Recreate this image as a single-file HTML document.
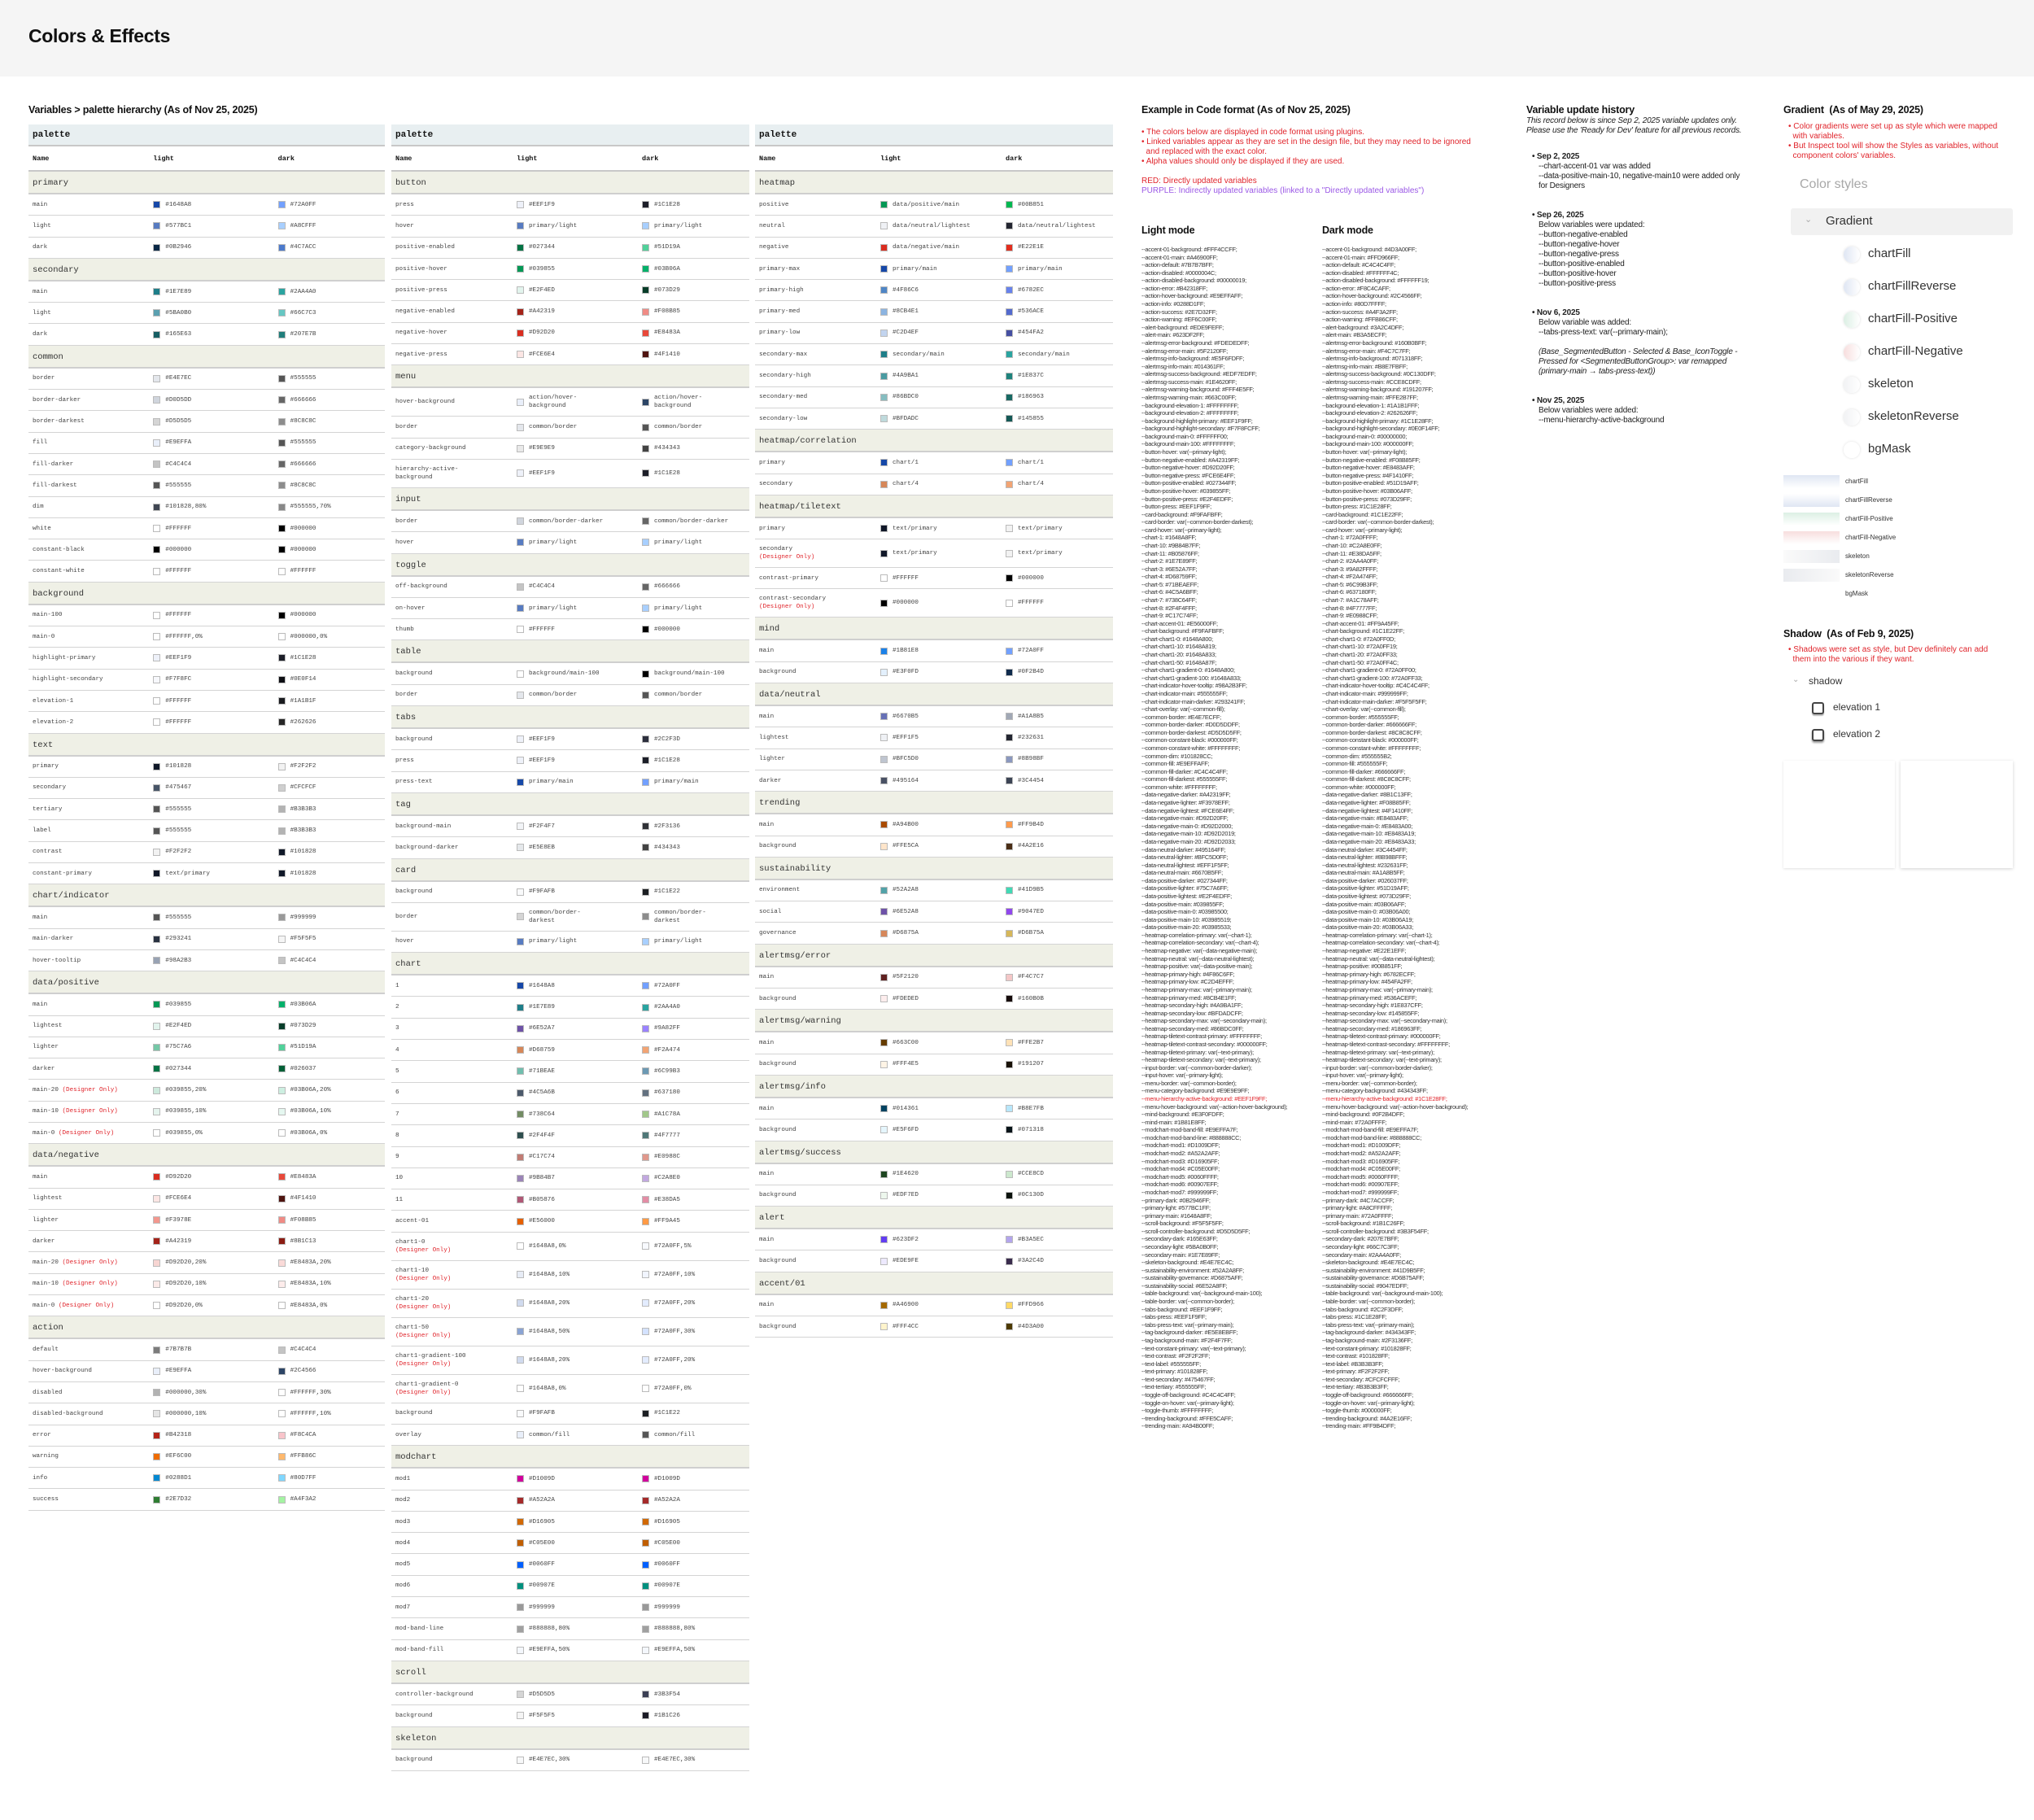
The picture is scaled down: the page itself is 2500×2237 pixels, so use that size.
<!DOCTYPE html>
<html><head><meta charset="utf-8"><title>Colors &amp; Effects</title>
<style>
*{box-sizing:border-box;margin:0;padding:0}
body{width:2500px;height:2237px;background:#fff;position:relative;font-family:"Liberation Sans",sans-serif;color:#111;overflow:hidden}
.abs{position:absolute}
#hdr{left:0;top:0;width:2500px;height:94px;background:#f5f5f5}
#title{left:35px;top:31px;font-size:23px;font-weight:bold;letter-spacing:-0.3px}
.h2{font-size:12.5px;font-weight:bold;letter-spacing:-0.2px}
.tbl{top:153px;font-family:"Liberation Mono",monospace}
.ph{height:27px;background:#e8eff1;border-bottom:2px solid #c8c8c8;font-size:11px;font-weight:bold;padding:7px 5px}
.nr{height:31px;border-bottom:2px solid #c8c8c8;font-size:8.5px;font-weight:bold;position:relative}
.nr .c{position:absolute;top:0;bottom:0;display:flex;align-items:center}
.sec{height:28px;background:#eff0e6;border-bottom:2px solid #cfcfcf;font-size:10.5px;padding:8px 5px;color:#333}
.row{min-height:26.3px;border-bottom:1.5px solid #d4d4d4;display:flex;align-items:center;padding:7px 0;font-size:7.6px;color:#444;line-height:10px}
.cn{width:35%;padding-left:5px}
.cv{width:35%;display:flex;align-items:center}
.cv2{width:30%;display:flex;align-items:center}
.vt{max-width:93px}
.sw{width:9px;height:9px;border:1px solid #bbb;margin-right:6px;flex:none}
.red{color:#e0242b}
.code{top:302px;font-size:7.4px;line-height:9.58px;color:#333;white-space:nowrap;letter-spacing:-0.25px}
.note{font-size:10px;color:#e0242b;line-height:12px}
.hist{font-size:10px;line-height:12px;color:#222;letter-spacing:-0.2px}
.gi{left:2296px;font-size:15px;color:#333}
.gc{left:2266px;width:20px;height:20px;border-radius:50%;box-shadow:0 0 3px #ddd}
.gs{left:2192px;width:69px;height:16px}
.gl{left:2268px;font-size:8px;color:#333}
</style></head><body>
<div id="hdr" class="abs"></div>
<div id="title" class="abs">Colors &amp; Effects</div>
<div class="abs h2" style="left:35px;top:128px">Variables &gt; palette hierarchy (As of Nov 25, 2025)</div>

<div id="t1" class="abs tbl" style="left:35px;width:438px"></div>
<div id="t2" class="abs tbl" style="left:481px;width:440px"></div>
<div id="t3" class="abs tbl" style="left:928px;width:440px"></div>

<div class="abs h2" style="left:1403px;top:128px">Example in Code format (As of Nov 25, 2025)</div>
<div class="abs note" style="left:1403px;top:157px;width:430px">
<div>• The colors below are displayed in code format using plugins.</div>
<div>• Linked variables appear as they are set in the design file, but they may need to be ignored<br>&nbsp;&nbsp;and replaced with the exact color.</div>
<div>• Alpha values should only be displayed if they are used.</div>
<div style="margin-top:12px">RED: Directly updated variables</div>
<div style="color:#9b59e6">PURPLE: Indirectly updated variables (linked to a "Directly updated variables")</div>
</div>
<div class="abs h2" style="left:1403px;top:276px">Light mode</div>
<div class="abs h2" style="left:1625px;top:276px">Dark mode</div>
<div id="codeL" class="abs code" style="left:1403px"></div>
<div id="codeD" class="abs code" style="left:1625px"></div>

<div class="abs h2" style="left:1876px;top:128px">Variable update history</div>
<div class="abs hist" style="left:1876px;top:143px;font-style:italic">This record below is since Sep 2, 2025 variable updates only.<br>Please use the 'Ready for Dev' feature for all previous records.</div>
<div class="abs hist" style="left:1883px;top:187px;width:290px">
<div><b>• Sep 2, 2025</b></div>
<div style="padding-left:8px">--chart-accent-01 var was added<br>--data-positive-main-10, negative-main10 were added only<br>for Designers</div>
<div style="margin-top:24px"><b>• Sep 26, 2025</b></div>
<div style="padding-left:8px">Below variables were updated:<br>--button-negative-enabled<br>--button-negative-hover<br>--button-negative-press<br>--button-positive-enabled<br>--button-positive-hover<br>--button-positive-press</div>
<div style="margin-top:24px"><b>• Nov 6, 2025</b></div>
<div style="padding-left:8px">Below variable was added:<br>--tabs-press-text: var(--primary-main);<br><br><i>(Base_SegmentedButton - Selected &amp; Base_IconToggle -<br>Pressed for &lt;SegmentedButtonGroup&gt;: var remapped<br>(primary-main → tabs-press-text))</i></div>
<div style="margin-top:24px"><b>• Nov 25, 2025</b></div>
<div style="padding-left:8px">Below variables were added:<br>--menu-hierarchy-active-background</div>
</div>

<div class="abs h2" style="left:2192px;top:128px">Gradient&nbsp; (As of May 29, 2025)</div>
<div class="abs note" style="left:2198px;top:150px;width:290px">• Color gradients were set up as style which were mapped<br>&nbsp;&nbsp;with variables.<br>• But Inspect tool will show the Styles as variables, without<br>&nbsp;&nbsp;component colors' variables.</div>
<div class="abs" style="left:2212px;top:218px;font-size:16px;color:#a8a8a8">Color styles</div>
<div class="abs" style="left:2201px;top:256px;width:273px;height:33px;background:#f1f1f1;border-radius:3px"></div>
<div class="abs" style="left:2218px;top:263px;font-size:11px;color:#aaa">⌄</div>
<div class="abs" style="left:2244px;top:263px;font-size:15px;color:#333">Gradient</div>
<div id="gradList"></div>

<div class="abs h2" style="left:2192px;top:772px">Shadow&nbsp; (As of Feb 9, 2025)</div>
<div class="abs note" style="left:2198px;top:793px;width:280px">• Shadows were set as style, but Dev definitely can add<br>&nbsp;&nbsp;them into the various if they want.</div>
<div class="abs" style="left:2203px;top:830px;font-size:10px;color:#aaa">⌄</div>
<div class="abs" style="left:2223px;top:830px;font-size:12px;color:#333">shadow</div>
<div class="abs" style="left:2227px;top:863px;width:15px;height:15px;border:2px solid #444;border-radius:3px;box-shadow:0 2px 1px #bbb"></div>
<div class="abs" style="left:2253px;top:862px;font-size:12px;color:#333">elevation 1</div>
<div class="abs" style="left:2227px;top:896px;width:15px;height:15px;border:2px solid #444;border-radius:3px;box-shadow:0 2px 2px #999"></div>
<div class="abs" style="left:2253px;top:895px;font-size:12px;color:#333">elevation 2</div>
<div class="abs" style="left:2192px;top:935px;width:137px;height:132px;background:#fff;box-shadow:0 1px 3px rgba(0,0,0,.12)"></div>
<div class="abs" style="left:2336px;top:935px;width:138px;height:132px;background:#fff;box-shadow:0 1px 4px rgba(0,0,0,.18)"></div>

<script>
const refL={"primary/main":"#1648A8","primary/light":"#577BC1","data/positive/main":"#039855","data/neutral/lightest":"#EFF1F5","data/negative/main":"#D92D20","secondary/main":"#1E7E89","chart/1":"#1648A8","chart/4":"#D68759","text/primary":"#101828","action/hover-background":"#E9EFFA","common/border":"#E4E7EC","common/border-darker":"#D0D5DD","common/border-darkest":"#D5D5D5","background/main-100":"#FFFFFF","common/fill":"#E9EFFA"};
const refD={"primary/main":"#72A0FF","primary/light":"#A8CFFF","data/neutral/lightest":"#232631","secondary/main":"#2AA4A0","chart/1":"#72A0FF","chart/4":"#F2A474","text/primary":"#F2F2F2","action/hover-background":"#2C4566","common/border":"#555555","common/border-darker":"#666666","common/border-darkest":"#8C8C8C","background/main-100":"#000000","common/fill":"#555555"};
const table1=["#primary","main|#1648A8|#72A0FF","light|#577BC1|#A8CFFF","dark|#0B2946|#4C7ACC","#secondary","main|#1E7E89|#2AA4A0","light|#5BA0B0|#66C7C3","dark|#165E63|#207E7B","#common","border|#E4E7EC|#555555","border-darker|#D0D5DD|#666666","border-darkest|#D5D5D5|#8C8C8C","fill|#E9EFFA|#555555","fill-darker|#C4C4C4|#666666","fill-darkest|#555555|#8C8C8C","dim|#101828,80%|#555555,70%","white|#FFFFFF|#000000","constant-black|#000000|#000000","constant-white|#FFFFFF|#FFFFFF","#background","main-100|#FFFFFF|#000000","main-0|#FFFFFF,0%|#000000,0%","highlight-primary|#EEF1F9|#1C1E28","highlight-secondary|#F7F8FC|#0E0F14","elevation-1|#FFFFFF|#1A1B1F","elevation-2|#FFFFFF|#262626","#text","primary|#101828|#F2F2F2","secondary|#475467|#CFCFCF","tertiary|#555555|#B3B3B3","label|#555555|#B3B3B3","contrast|#F2F2F2|#101828","constant-primary|text/primary|#101828","#chart/indicator","main|#555555|#999999","main-darker|#293241|#F5F5F5","hover-tooltip|#98A2B3|#C4C4C4","#data/positive","main|#039855|#03B06A","lightest|#E2F4ED|#073D29","lighter|#75C7A6|#51D19A","darker|#027344|#026037","main-20^(Designer Only)|#039855,20%|#03B06A,20%","main-10^(Designer Only)|#039855,10%|#03B06A,10%","main-0^(Designer Only)|#039855,0%|#03B06A,0%","#data/negative","main|#D92D20|#E8483A","lightest|#FCE6E4|#4F1410","lighter|#F3978E|#F08B85","darker|#A42319|#8B1C13","main-20^(Designer Only)|#D92D20,20%|#E8483A,20%","main-10^(Designer Only)|#D92D20,10%|#E8483A,10%","main-0^(Designer Only)|#D92D20,0%|#E8483A,0%","#action","default|#7B7B7B|#C4C4C4","hover-background|#E9EFFA|#2C4566","disabled|#000000,30%|#FFFFFF,30%","disabled-background|#000000,10%|#FFFFFF,10%","error|#B42318|#F8C4CA","warning|#EF6C00|#FFB86C","info|#0288D1|#80D7FF","success|#2E7D32|#A4F3A2"];
const table2=["#button","press|#EEF1F9|#1C1E28","hover|primary/light|primary/light","positive-enabled|#027344|#51D19A","positive-hover|#039855|#03B06A","positive-press|#E2F4ED|#073D29","negative-enabled|#A42319|#F08B85","negative-hover|#D92D20|#E8483A","negative-press|#FCE6E4|#4F1410","#menu","hover-background|action/hover-background|action/hover-background","border|common/border|common/border","category-background|#E9E9E9|#434343","hierarchy-active-~background|#EEF1F9|#1C1E28","#input","border|common/border-darker|common/border-darker","hover|primary/light|primary/light","#toggle","off-background|#C4C4C4|#666666","on-hover|primary/light|primary/light","thumb|#FFFFFF|#000000","#table","background|background/main-100|background/main-100","border|common/border|common/border","#tabs","background|#EEF1F9|#2C2F3D","press|#EEF1F9|#1C1E28","press-text|primary/main|primary/main","#tag","background-main|#F2F4F7|#2F3136","background-darker|#E5E8EB|#434343","#card","background|#F9FAFB|#1C1E22","border|common/border-darkest|common/border-darkest","hover|primary/light|primary/light","#chart","1|#1648A8|#72A0FF","2|#1E7E89|#2AA4A0","3|#6E52A7|#9A82FF","4|#D68759|#F2A474","5|#71BEAE|#6C99B3","6|#4C5A6B|#637180","7|#738C64|#A1C78A","8|#2F4F4F|#4F7777","9|#C17C74|#E0988C","10|#9B84B7|#C2A8E0","11|#B05876|#E38DA5","accent-01|#E56000|#FF9A45","chart1-0*(Designer Only)|#1648A8,0%|#72A0FF,5%","chart1-10*(Designer Only)|#1648A8,10%|#72A0FF,10%","chart1-20*(Designer Only)|#1648A8,20%|#72A0FF,20%","chart1-50*(Designer Only)|#1648A8,50%|#72A0FF,30%","chart1-gradient-100*(Designer Only)|#1648A8,20%|#72A0FF,20%","chart1-gradient-0*(Designer Only)|#1648A8,0%|#72A0FF,0%","background|#F9FAFB|#1C1E22","overlay|common/fill|common/fill","#modchart","mod1|#D1009D|#D1009D","mod2|#A52A2A|#A52A2A","mod3|#D16905|#D16905","mod4|#C05E00|#C05E00","mod5|#0060FF|#0060FF","mod6|#00907E|#00907E","mod7|#999999|#999999","mod-band-line|#888888,80%|#888888,80%","mod-band-fill|#E9EFFA,50%|#E9EFFA,50%","#scroll","controller-background|#D5D5D5|#3B3F54","background|#F5F5F5|#1B1C26","#skeleton","background|#E4E7EC,30%|#E4E7EC,30%"];
const table3=["#heatmap","positive|data/positive/main|#00B851","neutral|data/neutral/lightest|data/neutral/lightest","negative|data/negative/main|#E22E1E","primary-max|primary/main|primary/main","primary-high|#4F86C6|#6782EC","primary-med|#8CB4E1|#536ACE","primary-low|#C2D4EF|#454FA2","secondary-max|secondary/main|secondary/main","secondary-high|#4A9BA1|#1E837C","secondary-med|#86BDC0|#186963","secondary-low|#BFDADC|#145855","#heatmap/correlation","primary|chart/1|chart/1","secondary|chart/4|chart/4","#heatmap/tiletext","primary|text/primary|text/primary","secondary*(Designer Only)|text/primary|text/primary","contrast-primary|#FFFFFF|#000000","contrast-secondary*(Designer Only)|#000000|#FFFFFF","#mind","main|#1B81E8|#72A0FF","background|#E3F0FD|#0F2B4D","#data/neutral","main|#6670B5|#A1A8B5","lightest|#EFF1F5|#232631","lighter|#BFC5D0|#8B98BF","darker|#495164|#3C4454","#trending","main|#A94B00|#FF9B4D","background|#FFE5CA|#4A2E16","#sustainability","environment|#52A2A8|#41D9B5","social|#6E52A8|#9047ED","governance|#D6875A|#D6B75A","#alertmsg/error","main|#5F2120|#F4C7C7","background|#FDEDED|#160B0B","#alertmsg/warning","main|#663C00|#FFE2B7","background|#FFF4E5|#191207","#alertmsg/info","main|#014361|#B8E7FB","background|#E5F6FD|#071318","#alertmsg/success","main|#1E4620|#CCE8CD","background|#EDF7ED|#0C130D","#alert","main|#623DF2|#B3A5EC","background|#EDE9FE|#3A2C4D","#accent/01","main|#A46900|#FFD966","background|#FFF4CC|#4D3A00"];

function swatchColor(v,map){
  if(v[0]==='#'){const p=v.split(',');const c=p[0];const a=p[1]?parseFloat(p[1])/100:1;
    const r=parseInt(c.substr(1,2),16),g=parseInt(c.substr(3,2),16),b=parseInt(c.substr(5,2),16);
    return 'rgba('+r+','+g+','+b+','+a+')';}
  return map[v]||'#cccccc';
}
function cell(v,map,cls){
  const d=document.createElement('div');d.className=cls;
  const s=document.createElement('span');s.className='sw';s.style.background=swatchColor(v,map);
  d.appendChild(s);const t=document.createElement('span');t.className='vt';t.textContent=v;d.appendChild(t);return d;
}
function build(id,rows){
  const t=document.getElementById(id);const W=t.offsetWidth;
  const ph=document.createElement('div');ph.className='ph';ph.textContent='palette';
  
  
  t.appendChild(ph);
  const nr=document.createElement('div');nr.className='nr';
  
  
  [['Name',5],['light',W*0.35],['dark',W*0.7]].forEach(h=>{const d=document.createElement('div');d.className='c';d.style.left=h[1]+'px';d.textContent=h[0];nr.appendChild(d);});
  t.appendChild(nr);
  rows.forEach(r=>{
    if(r[0]==='#'){const s=document.createElement('div');s.className='sec';s.textContent=r.slice(1);
      
      
      t.appendChild(s);return;}
    const p=r.split('|');const row=document.createElement('div');row.className='row';
    
    
    const n=document.createElement('div');n.className='cn';
    let nm=p[0];
    if(nm.indexOf('*')>=0){const q=nm.split('*');n.innerHTML=q[0]+'<br><span class="red">'+q[1]+'</span>';}
    else if(nm.indexOf('^')>=0){const q=nm.split('^');n.innerHTML=q[0]+' <span class="red">'+q[1]+'</span>';}
    else if(nm.indexOf('~')>=0){const q=nm.split('~');n.innerHTML=q[0]+'<br>'+q[1];}
    else n.textContent=nm;
    row.appendChild(n);
    row.appendChild(cell(p[1],refL,'cv'));row.appendChild(cell(p[2],refD,'cv2'));t.appendChild(row);
  });
}
build('t1',table1);build('t2',table2);build('t3',table3);

const codeVars=["accent-01-background|FFF4CCFF|4D3A00FF","accent-01-main|A46900FF|FFD966FF","action-default|7B7B7BFF|C4C4C4FF","action-disabled|0000004C|FFFFFF4C","action-disabled-background|00000019|FFFFFF19","action-error|B42318FF|F8C4CAFF","action-hover-background|E9EFFAFF|2C4566FF","action-info|0288D1FF|80D7FFFF","action-success|2E7D32FF|A4F3A2FF","action-warning|EF6C00FF|FFB86CFF","alert-background|EDE9FEFF|3A2C4DFF","alert-main|623DF2FF|B3A5ECFF","alertmsg-error-background|FDEDEDFF|160B0BFF","alertmsg-error-main|5F2120FF|F4C7C7FF","alertmsg-info-background|E5F6FDFF|071318FF","alertmsg-info-main|014361FF|B8E7FBFF","alertmsg-success-background|EDF7EDFF|0C130DFF","alertmsg-success-main|1E4620FF|CCE8CDFF","alertmsg-warning-background|FFF4E5FF|191207FF","alertmsg-warning-main|663C00FF|FFE2B7FF","background-elevation-1|FFFFFFFF|1A1B1FFF","background-elevation-2|FFFFFFFF|262626FF","background-highlight-primary|EEF1F9FF|1C1E28FF","background-highlight-secondary|F7F8FCFF|0E0F14FF","background-main-0|FFFFFF00|00000000","background-main-100|FFFFFFFF|000000FF","button-hover|var(--primary-light)|var(--primary-light)","button-negative-enabled|A42319FF|F08B85FF","button-negative-hover|D92D20FF|E8483AFF","button-negative-press|FCE6E4FF|4F1410FF","button-positive-enabled|027344FF|51D19AFF","button-positive-hover|039855FF|03B06AFF","button-positive-press|E2F4EDFF|073D29FF","button-press|EEF1F9FF|1C1E28FF","card-background|F9FAFBFF|1C1E22FF","card-border|var(--common-border-darkest)|var(--common-border-darkest)","card-hover|var(--primary-light)|var(--primary-light)","chart-1|1648A8FF|72A0FFFF","chart-10|9B84B7FF|C2A8E0FF","chart-11|B05876FF|E38DA5FF","chart-2|1E7E89FF|2AA4A0FF","chart-3|6E52A7FF|9A82FFFF","chart-4|D68759FF|F2A474FF","chart-5|71BEAEFF|6C99B3FF","chart-6|4C5A6BFF|637180FF","chart-7|738C64FF|A1C78AFF","chart-8|2F4F4FFF|4F7777FF","chart-9|C17C74FF|E0988CFF","chart-accent-01|E56000FF|FF9A45FF","chart-background|F9FAFBFF|1C1E22FF","chart-chart1-0|1648A800|72A0FF0D","chart-chart1-10|1648A819|72A0FF19","chart-chart1-20|1648A833|72A0FF33","chart-chart1-50|1648A87F|72A0FF4C","chart-chart1-gradient-0|1648A800|72A0FF00","chart-chart1-gradient-100|1648A833|72A0FF33","chart-indicator-hover-tooltip|98A2B3FF|C4C4C4FF","chart-indicator-main|555555FF|999999FF","chart-indicator-main-darker|293241FF|F5F5F5FF","chart-overlay|var(--common-fill)|var(--common-fill)","common-border|E4E7ECFF|555555FF","common-border-darker|D0D5DDFF|666666FF","common-border-darkest|D5D5D5FF|8C8C8CFF","common-constant-black|000000FF|000000FF","common-constant-white|FFFFFFFF|FFFFFFFF","common-dim|101828CC|555555B2","common-fill|E9EFFAFF|555555FF","common-fill-darker|C4C4C4FF|666666FF","common-fill-darkest|555555FF|8C8C8CFF","common-white|FFFFFFFF|000000FF","data-negative-darker|A42319FF|8B1C13FF","data-negative-lighter|F3978EFF|F08B85FF","data-negative-lightest|FCE6E4FF|4F1410FF","data-negative-main|D92D20FF|E8483AFF","data-negative-main-0|D92D2000|E8483A00","data-negative-main-10|D92D2019|E8483A19","data-negative-main-20|D92D2033|E8483A33","data-neutral-darker|495164FF|3C4454FF","data-neutral-lighter|BFC5D0FF|8B98BFFF","data-neutral-lightest|EFF1F5FF|232631FF","data-neutral-main|6670B5FF|A1A8B5FF","data-positive-darker|027344FF|026037FF","data-positive-lighter|75C7A6FF|51D19AFF","data-positive-lightest|E2F4EDFF|073D29FF","data-positive-main|039855FF|03B06AFF","data-positive-main-0|03985500|03B06A00","data-positive-main-10|03985519|03B06A19","data-positive-main-20|03985533|03B06A33","heatmap-correlation-primary|var(--chart-1)|var(--chart-1)","heatmap-correlation-secondary|var(--chart-4)|var(--chart-4)","heatmap-negative|var(--data-negative-main)|E22E1EFF","heatmap-neutral|var(--data-neutral-lightest)|var(--data-neutral-lightest)","heatmap-positive|var(--data-positive-main)|00B851FF","heatmap-primary-high|4F86C6FF|6782ECFF","heatmap-primary-low|C2D4EFFF|454FA2FF","heatmap-primary-max|var(--primary-main)|var(--primary-main)","heatmap-primary-med|8CB4E1FF|536ACEFF","heatmap-secondary-high|4A9BA1FF|1E837CFF","heatmap-secondary-low|BFDADCFF|145855FF","heatmap-secondary-max|var(--secondary-main)|var(--secondary-main)","heatmap-secondary-med|86BDC0FF|186963FF","heatmap-tiletext-contrast-primary|FFFFFFFF|000000FF","heatmap-tiletext-contrast-secondary|000000FF|FFFFFFFF","heatmap-tiletext-primary|var(--text-primary)|var(--text-primary)","heatmap-tiletext-secondary|var(--text-primary)|var(--text-primary)","input-border|var(--common-border-darker)|var(--common-border-darker)","input-hover|var(--primary-light)|var(--primary-light)","menu-border|var(--common-border)|var(--common-border)","menu-category-background|E9E9E9FF|434343FF","!menu-hierarchy-active-background|EEF1F9FF|1C1E28FF","menu-hover-background|var(--action-hover-background)|var(--action-hover-background)","mind-background|E3F0FDFF|0F2B4DFF","mind-main|1B81E8FF|72A0FFFF","modchart-mod-band-fill|E9EFFA7F|E9EFFA7F","modchart-mod-band-line|888888CC|888888CC","modchart-mod1|D1009DFF|D1009DFF","modchart-mod2|A52A2AFF|A52A2AFF","modchart-mod3|D16905FF|D16905FF","modchart-mod4|C05E00FF|C05E00FF","modchart-mod5|0060FFFF|0060FFFF","modchart-mod6|00907EFF|00907EFF","modchart-mod7|999999FF|999999FF","primary-dark|0B2946FF|4C7ACCFF","primary-light|577BC1FF|A8CFFFFF","primary-main|1648A8FF|72A0FFFF","scroll-background|F5F5F5FF|1B1C26FF","scroll-controller-background|D5D5D5FF|3B3F54FF","secondary-dark|165E63FF|207E7BFF","secondary-light|5BA0B0FF|66C7C3FF","secondary-main|1E7E89FF|2AA4A0FF","skeleton-background|E4E7EC4C|E4E7EC4C","sustainability-environment|52A2A8FF|41D9B5FF","sustainability-governance|D6875AFF|D6B75AFF","sustainability-social|6E52A8FF|9047EDFF","table-background|var(--background-main-100)|var(--background-main-100)","table-border|var(--common-border)|var(--common-border)","tabs-background|EEF1F9FF|2C2F3DFF","tabs-press|EEF1F9FF|1C1E28FF","tabs-press-text|var(--primary-main)|var(--primary-main)","tag-background-darker|E5E8EBFF|434343FF","tag-background-main|F2F4F7FF|2F3136FF","text-constant-primary|var(--text-primary)|101828FF","text-contrast|F2F2F2FF|101828FF","text-label|555555FF|B3B3B3FF","text-primary|101828FF|F2F2F2FF","text-secondary|475467FF|CFCFCFFF","text-tertiary|555555FF|B3B3B3FF","toggle-off-background|C4C4C4FF|666666FF","toggle-on-hover|var(--primary-light)|var(--primary-light)","toggle-thumb|FFFFFFFF|000000FF","trending-background|FFE5CAFF|4A2E16FF","trending-main|A94B00FF|FF9B4DFF"];
const cL=document.getElementById('codeL'),cD=document.getElementById('codeD');
codeVars.forEach(v=>{
  let red=false;if(v[0]==='!'){red=true;v=v.slice(1);}
  const p=v.split('|');
  [[cL,p[1]],[cD,p[2]]].forEach(x=>{
    const d=document.createElement('div');
    
    
    const val=x[1].startsWith('var')?x[1]:'#'+x[1];
    d.textContent='--'+p[0]+': '+val+';';if(red)d.className='red';x[0].appendChild(d);
  });
});

const gradNames=["chartFill","chartFillReverse","chartFill-Positive","chartFill-Negative","skeleton","skeletonReverse","bgMask"];
const gradCols=["#dfe6f3","#dfe6f3","#dcefe4","#f7dede","#f1f2f4","#f1f2f4","#ffffff"];
const gl=document.getElementById('gradList');
gradNames.forEach((n,i)=>{
  const c=document.createElement('div');c.className='abs gc';c.style.top=(303+i*40)+'px';
  c.style.background='linear-gradient(90deg,'+gradCols[i]+',#fff)';
  
  
  gl.appendChild(c);
  const t=document.createElement('div');t.className='abs gi';t.style.top=(303+i*40)+'px';t.textContent=n;
  
  
  gl.appendChild(t);
  const s=document.createElement('div');s.className='abs gs';s.style.top=(584+i*23)+'px';
  const rev=(n.indexOf('Reverse')>=0);
  s.style.background='linear-gradient(180deg,'+(rev?'#fff,':'')+gradCols[i]+(rev?'':',#fff')+')';
  if(n.startsWith('skeleton'))s.style.background='linear-gradient(90deg,'+(rev?'#e9ebef,#fafafa':'#fafafa,#e9ebef')+')';
  
  
  gl.appendChild(s);
  const l=document.createElement('div');l.className='abs gl';l.style.top=(587+i*23)+'px';l.textContent=n;
  
  
  gl.appendChild(l);
});
</script>
</body></html>
